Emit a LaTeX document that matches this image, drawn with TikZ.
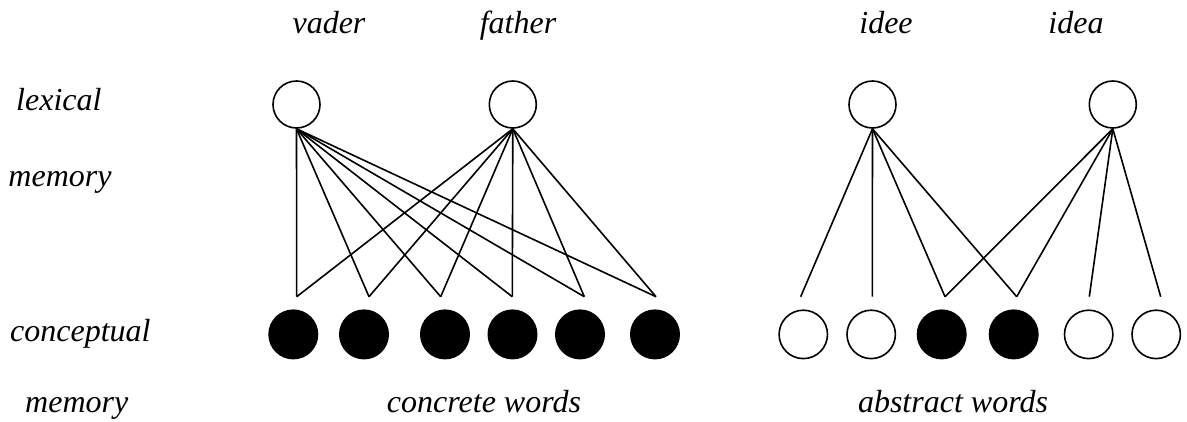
\documentclass[tikz,border=0pt]{standalone}
\usepackage{fontspec}
\setmainfont{Liberation Serif}
\begin{document}
\begin{tikzpicture}[x=1pt,y=-1pt,
  lexnode/.style={circle,draw,line width=1.6pt,minimum size=47pt,inner sep=0pt},
  connode/.style={circle,draw,line width=1.6pt,minimum size=48.4pt,inner sep=0pt},
  filledc/.style={connode,fill=black},
  openc/.style={connode,fill=white},
  lbl/.style={font=\fontsize{32}{38}\selectfont\itshape,inner sep=0pt},
  link/.style={line width=1.6pt}]
\useasboundingbox (0,0) rectangle (1187,421);

% lexical memory nodes
\node[lexnode] (vader)  at (296.5,104.5) {};
\node[lexnode] (father) at (512.8,104.5) {};
\node[lexnode] (idee)   at (872.5,104.5) {};
\node[lexnode] (idea)   at (1112.8,104.5) {};

% conceptual memory nodes: concrete words
\node[filledc] (c1) at (293.3,334.4) {};
\node[filledc] (c2) at (364,334.4) {};
\node[filledc] (c3) at (445,334.4) {};
\node[filledc] (c4) at (512.5,334.4) {};
\node[filledc] (c5) at (580,334.4) {};
\node[filledc] (c6) at (655,334.4) {};

% conceptual memory nodes: abstract words
\node[openc]   (a1) at (803.3,334.4) {};
\node[openc]   (a2) at (871.2,334.4) {};
\node[filledc] (a3) at (941.7,334.4) {};
\node[filledc] (a4) at (1013.7,334.4) {};
\node[openc]   (a5) at (1088.7,334.4) {};
\node[openc]   (a6) at (1156.2,334.4) {};

% link end points just above the conceptual nodes
\foreach \n/\x in {c1/296.7,c2/369,c3/440.7,c4/512.3,c5/584.3,c6/656,
                   a1/800.7,a2/872.3,a3/945,a4/1016.7,a5/1089.3,a6/1160.7}
  \coordinate (e\n) at (\x,296.7);

% concrete words: each word form links to every concept node
\foreach \w in {vader,father}
  \foreach \n in {c1,c2,c3,c4,c5,c6}
    \draw[link] (\w.south) -- (e\n);

% abstract words: partial overlap
\foreach \n in {a1,a2,a3,a4}
  \draw[link] (idee.south) -- (e\n);
\foreach \n in {a3,a4,a5,a6}
  \draw[link] (idea.south) -- (e\n);

% labels
\node[lbl,anchor=base] (tvader)  at (329,33) {vader};
\node[lbl,anchor=base] (tfather) at (518,33) {father};
\node[lbl,anchor=base] (tidee)   at (886,33) {idee};
\node[lbl,anchor=base] (tidea)   at (1076,33) {idea};

\node[lbl,anchor=base west] (tlex)  at (16,110) {lexical};
\node[lbl,anchor=base west] (tmem1) at (8.3,186) {memory};
\node[lbl,anchor=base west] (tcon)  at (10,341) {conceptual};
\node[lbl,anchor=base west] (tmem2) at (25,412) {memory};

\node[lbl,anchor=base] (tconc) at (484,412) {concrete words};
\node[lbl,anchor=base] (tabst) at (953,412) {abstract words};
\end{tikzpicture}
\end{document}
